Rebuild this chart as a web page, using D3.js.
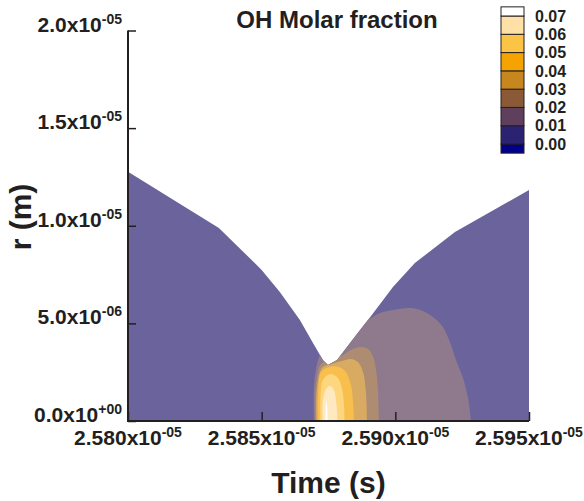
<!DOCTYPE html>
<html>
<head>
<meta charset="utf-8">
<script src="https://cdn.jsdelivr.net/npm/d3@7"></script>
<style>
  body { margin: 0; background: #fff; }
  svg { display: block; }
  text { font-family: "Liberation Sans", Arial, sans-serif; font-weight: bold; fill: #231f20; }
</style>
</head>
<body>
<div id="chart"></div>
<script>
// upper edge of the domain (time s, radius m)
var edgeT = [2.5800e-5, 2.5834e-5, 2.5850e-5, 2.58568e-5, 2.58643e-5, 2.58692e-5, 2.58729e-5, 2.58748e-5,
             2.58782e-5, 2.58819e-5, 2.58868e-5, 2.58912e-5, 2.58991e-5, 2.59073e-5, 2.59223e-5, 2.5950e-5]
var edgeR = [12.76e-6, 9.89e-6, 7.74e-6, 6.61e-6, 5.17e-6, 4.00e-6, 3.13e-6, 2.87e-6,
             3.13e-6, 3.79e-6, 4.66e-6, 5.43e-6, 6.86e-6, 8.09e-6, 9.68e-6, 11.83e-6]

// contour levels and legend colours (first: below 0.00, last: above 0.07)
var levels = [0.00, 0.01, 0.02, 0.03, 0.04, 0.05, 0.06, 0.07]
var levelColors = ["#00008b", "#2c2272", "#5e3f5c", "#8a5a36", "#c8861e", "#f5a300", "#fcc447", "#ffe0a6", "#ffffff"]

// outlines of the regions above each level, [time, r]
var band01 = [[2.58696e-5, 0], [2.58696e-5, 1.84e-6], [2.58718e-5, 3.38e-6], [2.58774e-5, 4.41e-6], [2.58830e-5, 4.92e-6],
              [2.58894e-5, 5.17e-6], [2.58942e-5, 5.53e-6], [2.58991e-5, 5.69e-6], [2.59055e-5, 5.79e-6], [2.59103e-5, 5.64e-6],
              [2.59141e-5, 5.33e-6], [2.59178e-5, 4.82e-6], [2.59204e-5, 4.05e-6], [2.59227e-5, 3.13e-6], [2.59253e-5, 2.20e-6],
              [2.59272e-5, 1.18e-6], [2.59283e-5, 0]]
var band02 = [[2.58701e-5, 0], [2.58703e-5, 1.84e-6], [2.58722e-5, 2.92e-6], [2.58759e-5, 3.18e-6], [2.58797e-5, 3.33e-6],
              [2.58834e-5, 3.64e-6], [2.58871e-5, 3.79e-6], [2.58898e-5, 3.69e-6], [2.58916e-5, 3.33e-6], [2.58928e-5, 2.61e-6],
              [2.58935e-5, 1.59e-6], [2.58939e-5, 0]]
var band03 = [[2.58705e-5, 0], [2.58707e-5, 1.69e-6], [2.58726e-5, 2.72e-6], [2.58763e-5, 2.92e-6], [2.58800e-5, 3.07e-6],
              [2.58834e-5, 3.18e-6], [2.58860e-5, 3.02e-6], [2.58879e-5, 2.51e-6], [2.58890e-5, 1.49e-6], [2.58894e-5, 0]]
var band04 = [[2.58711e-5, 0], [2.58711e-5, 1.49e-6], [2.58722e-5, 2.51e-6], [2.58752e-5, 2.77e-6], [2.58789e-5, 2.77e-6],
              [2.58815e-5, 2.51e-6], [2.58834e-5, 1.84e-6], [2.58842e-5, 0.92e-6], [2.58845e-5, 0]]
var band05 = [[2.58720e-5, 0], [2.58720e-5, 1.28e-6], [2.58729e-5, 2.10e-6], [2.58755e-5, 2.41e-6], [2.58782e-5, 2.25e-6],
              [2.58800e-5, 1.69e-6], [2.58808e-5, 0.82e-6], [2.58810e-5, 0]]
var band06 = [[2.58729e-5, 0], [2.58729e-5, 1.08e-6], [2.58741e-5, 1.64e-6], [2.58755e-5, 1.79e-6], [2.58770e-5, 1.59e-6],
              [2.58780e-5, 0.82e-6], [2.58784e-5, 0]]
var band07 = [[2.58739e-5, 0], [2.58740e-5, 0.72e-6], [2.58742e-5, 1.02e-6], [2.58745e-5, 0.72e-6], [2.58747e-5, 0]]

var xTicks = [2.580e-5, 2.585e-5, 2.590e-5, 2.595e-5]
var yTicks = [0, 5e-6, 1.0e-5, 1.5e-5, 2.0e-5]

var width = 584, height = 501
var svg = d3.select("#chart").append("svg").attr("width", width).attr("height", height)

var x = d3.scaleLinear().domain([2.580e-5, 2.595e-5]).range([128, 529])
var y = d3.scaleLinear().domain([0, 2.0e-5]).range([421, 30.5])

// colours in the plot are the legend colours washed out
function washed(c) { return d3.interpolateRgb("#ffffff", c)(0.7) }

var edge = edgeT.map(function(t, i) { return [t, edgeR[i]] })
var domainArea = d3.area()
  .x(function(d) { return x(d[0]) })
  .y0(y(0))
  .y1(function(d) { return y(d[1]) })

svg.append("clipPath").attr("id", "dom")
  .append("path").attr("d", domainArea(edge))

svg.append("path")
  .attr("d", domainArea(edge))
  .attr("fill", washed(levelColors[1]))

var bandLine = d3.line()
  .x(function(d) { return x(d[0]) })
  .y(function(d) { return y(d[1]) })
  .curve(d3.curveCatmullRom.alpha(0.5))

var bands = [band01, band02, band03, band04, band05, band06, band07]
svg.append("g").attr("clip-path", "url(#dom)")
  .selectAll("path")
  .data(bands)
  .enter()
  .append("path")
    .attr("d", function(d) { return bandLine(d) + "Z" })
    .attr("fill", function(d, i) { return washed(levelColors[i + 2]) })

// axes, ticks point inward
var axisColor = "#231f20"
var gx = svg.append("g").attr("transform", "translate(0,421)")
gx.call(d3.axisBottom(x).tickValues(d3.range(1, 15).map(function(i) { return 2.580e-5 + i * 1e-8 })).tickSize(-6).tickFormat(""))
gx.call(d3.axisBottom(x).tickValues(xTicks).tickSize(-9).tickFormat(""))
var gy = svg.append("g").attr("transform", "translate(128,0)")
gy.call(d3.axisLeft(y).tickValues(d3.range(1, 20).map(function(i) { return i * 1e-6 })).tickSize(-5).tickFormat(""))
gy.call(d3.axisLeft(y).tickValues(yTicks).tickSize(-8).tickFormat(""))
svg.selectAll(".domain").remove()
svg.selectAll(".tick line").attr("stroke", axisColor).attr("stroke-width", 1.5)

svg.append("line").attr("x1", 128).attr("x2", 128).attr("y1", y(2e-5)).attr("y2", 421.5)
  .attr("stroke", axisColor).attr("stroke-width", 2)
svg.append("line").attr("x1", 127).attr("x2", 529).attr("y1", 421).attr("y2", 421)
  .attr("stroke", axisColor).attr("stroke-width", 2)

function sci(sel, v, digits) {
  var e = v === 0 ? 0 : Math.floor(Math.log10(Math.abs(v)) + 1e-9)
  var m = v / Math.pow(10, e)
  var ex = (e < 0 ? "-" : "+") + (Math.abs(e) < 10 ? "0" : "") + Math.abs(e)
  sel.append("tspan").text(m.toFixed(digits) + "x10")
  sel.append("tspan").attr("dy", -8).attr("font-size", 14).text(ex)
}

svg.append("g").selectAll("text")
  .data(xTicks)
  .enter()
  .append("text")
    .attr("x", function(d) { return x(d) })
    .attr("y", 445)
    .attr("text-anchor", "middle")
    .attr("font-size", 21)
    .each(function(d) { sci(d3.select(this), d, 3) })

svg.append("g").selectAll("text")
  .data(yTicks)
  .enter()
  .append("text")
    .attr("x", 122)
    .attr("y", function(d) { return y(d) + 1 })
    .attr("text-anchor", "end")
    .attr("font-size", 21)
    .each(function(d) { sci(d3.select(this), d, 1) })

svg.append("text")
  .attr("x", 328.5).attr("y", 493)
  .attr("text-anchor", "middle")
  .attr("font-size", 30)
  .text("Time (s)")

svg.append("text")
  .attr("transform", "translate(31,217) rotate(-90)")
  .attr("text-anchor", "middle")
  .attr("font-size", 30)
  .text("r (m)")

svg.append("text")
  .attr("x", 337).attr("y", 28)
  .attr("text-anchor", "middle")
  .attr("font-size", 24)
  .text("OH Molar fraction")

// legend: one cell per band, half cells at both ends
var ly = d3.scaleLinear().domain([0, 0.07]).range([144, 16])
var step = ly(0) - ly(0.01)
var leg = svg.append("g")
leg.selectAll("rect")
  .data(levelColors)
  .enter()
  .append("rect")
    .attr("x", 501)
    .attr("width", 23)
    .attr("y", function(d, i) {
      if (i === 0) return ly(levels[0])
      if (i === 8) return ly(levels[7]) - step / 2
      return ly(levels[i])
    })
    .attr("height", function(d, i) { return (i === 0 || i === 8) ? step / 2 : step })
    .attr("fill", function(d) { return d })
    .attr("stroke", "#231f20")
    .attr("stroke-width", 1)
leg.selectAll("text")
  .data(levels)
  .enter()
  .append("text")
    .attr("x", 535)
    .attr("y", function(d) { return ly(d) })
    .attr("dy", "0.36em")
    .attr("font-size", 16)
    .text(function(d) { return d.toFixed(2) })
</script>
</body>
</html>
